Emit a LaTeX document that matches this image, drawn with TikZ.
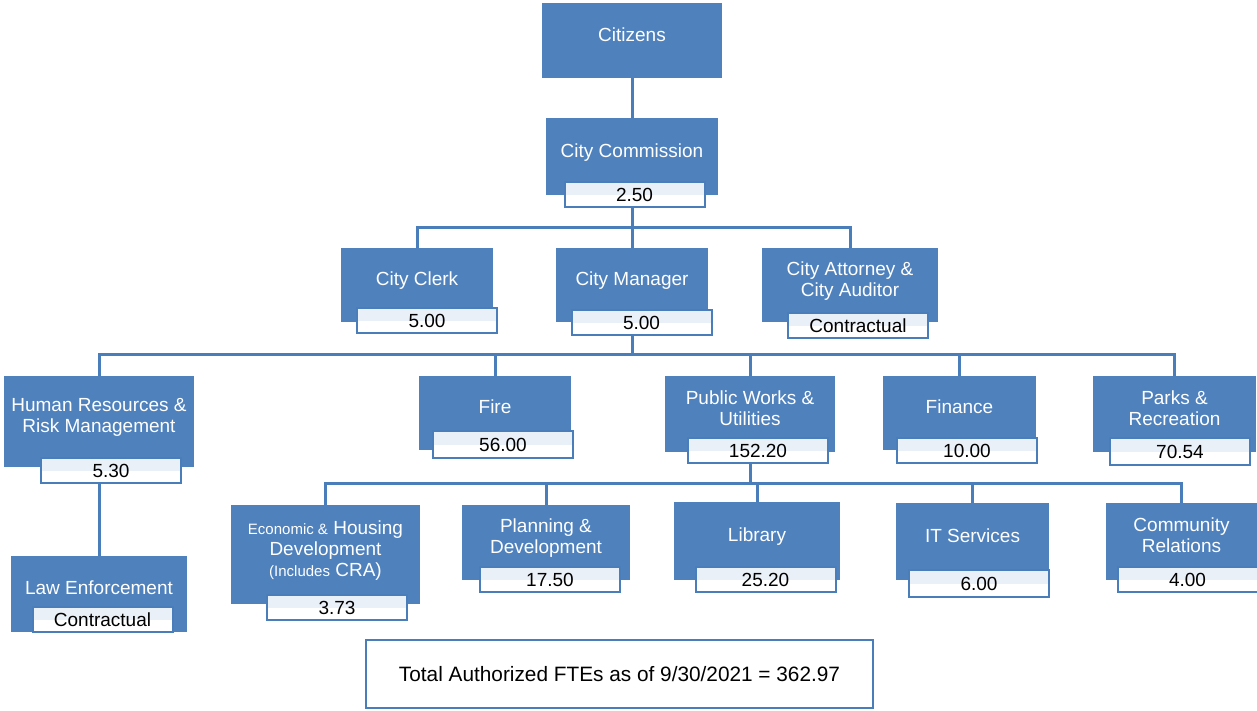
\documentclass[tikz,border=0pt]{standalone}
\usepackage{fontspec}
\setmainfont{Liberation Sans}
\usetikzlibrary{backgrounds}

\definecolor{unitblue}{HTML}{4F81BD}
\definecolor{linkblue}{HTML}{4A7EBB}
\definecolor{ftelight}{HTML}{EAF0F8}

\tikzset{
  unit/.style={fill=unitblue, text=white, inner sep=0pt, align=center,
    text depth=6pt, font=\fontsize{9.5}{10.5}\selectfont},
  fte/.style={draw=linkblue, line width=1pt, fill=white, inner sep=0pt,
    minimum width=70pt, minimum height=12.5pt,
    font=\fontsize{9.5}{10.5}\selectfont,
    path picture={\fill[ftelight] (path picture bounding box.north west)
      rectangle (path picture bounding box.east);}},
  link/.style={draw=linkblue, line width=1.5pt},
  total/.style={draw=linkblue, line width=1pt, fill=white, inner sep=0pt,
    minimum width=253.5pt, minimum height=34pt, font=\fontsize{10.4}{12}\selectfont}
}

\begin{document}
\begin{tikzpicture}[x=0.5pt, y=-0.5pt]

\useasboundingbox ( 0, 0 ) rectangle ( 1257, 711 );

% Top
\node [unit, minimum width=90pt, minimum height=37.5pt] (citizens) at ( 632, 40.5 ) {Citizens};
\node [unit, minimum width=86pt, minimum height=38.5pt] (commission) at ( 632, 156.5 ) {City Commission};
\node [fte] (commission-fte) at ( 634.5, 195 ) {2.50};

% Second row
\node [unit, minimum width=76pt, minimum height=37pt] (clerk) at ( 417, 285 ) {City Clerk};
\node [fte] (clerk-fte) at ( 427, 320.5 ) {5.00};
\node [unit, minimum width=76pt, minimum height=37pt] (manager) at ( 632, 285 ) {City Manager};
\node [fte] (manager-fte) at ( 641.5, 322.5 ) {5.00};
\node [unit, minimum width=88pt, minimum height=37pt] (attorney) at ( 850, 285 ) {City Attorney \&\\City Auditor};
\node [fte] (attorney-fte) at ( 858, 325.5 ) {Contractual};

% Departments
\node [unit, minimum width=95pt, minimum height=45.5pt] (hr) at ( 99, 421.5 ) {Human Resources \&\\Risk Management};
\node [fte] (hr-fte) at ( 111, 470.5 ) {5.30};
\node [unit, minimum width=76pt, minimum height=37pt] (fire) at ( 495, 413 ) {Fire};
\node [fte, minimum height=13.5pt] (fire-fte) at ( 503, 444.5 ) {56.00};
\node [unit, minimum width=85pt, minimum height=38pt] (works) at ( 750, 414 ) {Public Works \&\\Utilities};
\node [fte] (works-fte) at ( 758, 450.5 ) {152.20};
\node [unit, minimum width=76.5pt, minimum height=37pt] (finance) at ( 959.5, 413 ) {Finance};
\node [fte] (finance-fte) at ( 967, 450.5 ) {10.00};
\node [unit, minimum width=81.5pt, minimum height=38pt] (parks) at ( 1174.5, 414 ) {Parks \&\\Recreation};
\node [fte, minimum height=13.5pt] (parks-fte) at ( 1180, 451.5 ) {70.54};

\node [unit, minimum width=88pt, minimum height=38pt] (law) at ( 99, 594 ) {Law Enforcement};
\node [fte] (law-fte) at ( 102.5, 619.5 ) {Contractual};

% Divisions
\node [unit, minimum width=94.5pt, minimum height=49.5pt] (econ) at ( 325.5, 554.5 )
  {{\fontsize{7.5}{10}\selectfont Economic \&} Housing\\Development\\{\fontsize{7.5}{10}\selectfont(Includes} CRA)};
\node [fte] (econ-fte) at ( 337, 607.5 ) {3.73};
\node [unit, minimum width=84pt, minimum height=37.5pt] (planning) at ( 546, 542.5 ) {Planning \&\\Development};
\node [fte] (planning-fte) at ( 550, 579.5 ) {17.50};
\node [unit, minimum width=83pt, minimum height=39pt] (library) at ( 757, 541 ) {Library};
\node [fte] (library-fte) at ( 765.5, 579.5 ) {25.20};
\node [unit, minimum width=76.5pt, minimum height=38.5pt] (it) at ( 972.5, 541.5 ) {IT Services};
\node [fte, minimum height=13.5pt] (it-fte) at ( 979, 583.5 ) {6.00};
\node [unit, minimum width=75.5pt, minimum height=38.5pt] (community) at ( 1181.5, 541.5 ) {Community\\Relations};
\node [fte] (community-fte) at ( 1187.5, 579.5 ) {4.00};

% Total
\node [total] (total) at ( 619.5, 674 ) {Total Authorized FTEs as of 9/30/2021 = 362.97};

% Connectors
\coordinate (bus2) at ( 632, 228 );
\coordinate (bus3) at ( 632, 354 );
\coordinate (bus4) at ( 750, 483 );

\begin{scope}[on background layer]
\draw [link] (citizens) -- (commission);
\draw [link] (commission) -- (bus2);
\foreach \dept in {clerk, manager, attorney}
  \draw [link] (bus2) -| (\dept);
\draw [link] (manager) -- (bus3);
\foreach \dept in {hr, fire, works, finance, parks}
  \draw [link] (bus3) -| (\dept);
\draw [link] (hr) -- (law);
\draw [link] (works) -- (bus4);
\foreach \dept in {econ, planning, library, it, community}
  \draw [link] (bus4) -| (\dept);
\end{scope}

\end{tikzpicture}
\end{document}
